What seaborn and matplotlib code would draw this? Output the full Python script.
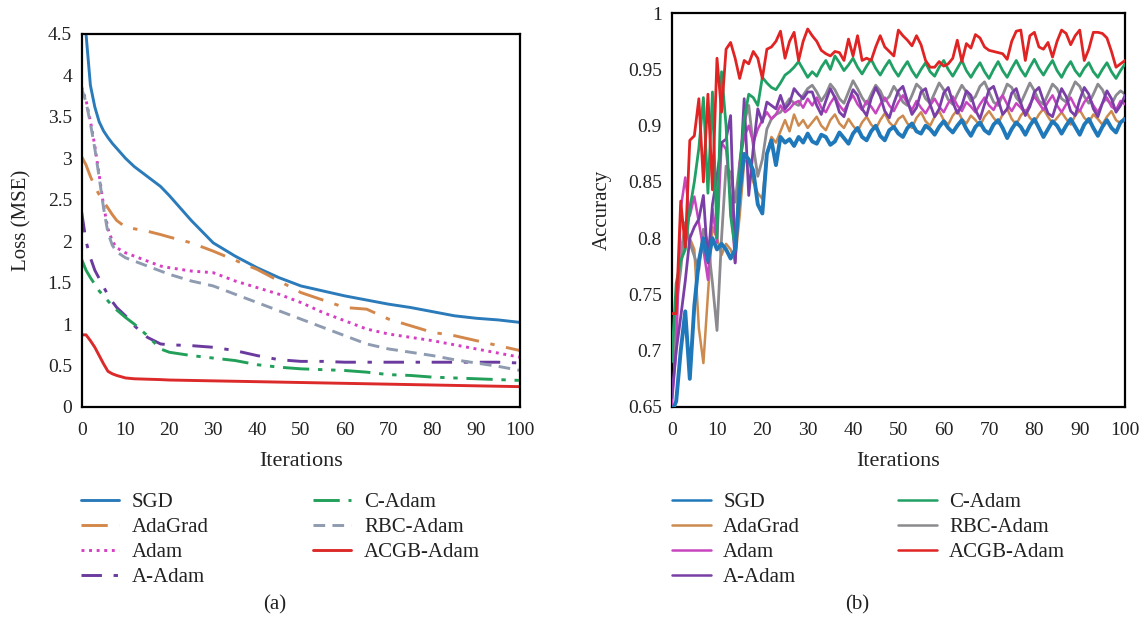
import pandas as pd
import matplotlib
matplotlib.use("Agg")
import matplotlib.pyplot as plt
from matplotlib.ticker import FuncFormatter, MultipleLocator
import seaborn as sns

optimizers = ["SGD", "AdaGrad", "Adam", "A-Adam", "C-Adam", "RBC-Adam", "ACGB-Adam"]

# ---- (a) loss curves ----
loss_iters = [0, 1, 2, 3, 4, 5, 6, 7, 8, 10, 12, 15, 18, 20, 25, 30, 35, 40, 45, 50,
              55, 60, 65, 70, 75, 80, 85, 90, 95, 100]
loss_sgd = [5.2, 4.5, 3.88, 3.62, 3.44, 3.33, 3.25, 3.18, 3.12, 3.0, 2.9, 2.78, 2.66, 2.55,
            2.25, 1.98, 1.82, 1.68, 1.56, 1.46, 1.40, 1.34, 1.29, 1.24, 1.20, 1.15, 1.10, 1.07, 1.05, 1.02]
loss_adagrad = [3.02, 2.92, 2.78, 2.66, 2.56, 2.48, 2.4, 2.32, 2.25, 2.17, 2.15, 2.12, 2.08, 2.05,
                1.98, 1.88, 1.77, 1.66, 1.52, 1.38, 1.29, 1.2, 1.18, 1.06, 0.98, 0.9, 0.86, 0.8, 0.74, 0.68]
loss_adam = [3.86, 3.7, 3.45, 3.15, 2.8, 2.43, 2.15, 2.0, 1.92, 1.86, 1.82, 1.76, 1.7, 1.68,
             1.64, 1.62, 1.52, 1.44, 1.36, 1.26, 1.14, 1.04, 0.94, 0.88, 0.84, 0.8, 0.75, 0.7, 0.65, 0.6]
loss_aadam = [2.35, 2.0, 1.8, 1.65, 1.55, 1.45, 1.35, 1.27, 1.2, 1.1, 0.98, 0.84, 0.76, 0.75,
              0.74, 0.72, 0.68, 0.62, 0.57, 0.55, 0.55, 0.54, 0.54, 0.54, 0.54, 0.54, 0.54, 0.54, 0.54, 0.53]
loss_cadam = [1.78, 1.65, 1.56, 1.48, 1.4, 1.34, 1.28, 1.22, 1.17, 1.08, 1.0, 0.86, 0.7, 0.66,
              0.62, 0.59, 0.56, 0.51, 0.48, 0.46, 0.45, 0.44, 0.42, 0.39, 0.38, 0.36, 0.35, 0.34, 0.33, 0.32]
loss_rbc = [3.84, 3.68, 3.42, 3.12, 2.77, 2.4, 2.1, 1.95, 1.87, 1.8, 1.76, 1.7, 1.64, 1.6,
            1.52, 1.46, 1.36, 1.26, 1.16, 1.06, 0.96, 0.86, 0.76, 0.7, 0.66, 0.62, 0.57, 0.53, 0.49, 0.44]
loss_acgb = [0.87, 0.87, 0.8, 0.72, 0.62, 0.52, 0.43, 0.4, 0.38, 0.35, 0.34, 0.335, 0.33, 0.325,
             0.32, 0.315, 0.31, 0.305, 0.3, 0.295, 0.29, 0.285, 0.28, 0.275, 0.27, 0.265, 0.26, 0.255, 0.25, 0.245]

# ---- (b) accuracy curves, one value per iteration 0..100 ----
acc_iters = list(range(101))
acc_sgd = [
    0.645, 0.655, 0.700, 0.735, 0.675, 0.740, 0.780, 0.800, 0.780, 0.800,
    0.790, 0.795, 0.790, 0.782, 0.790, 0.840, 0.875, 0.870, 0.860, 0.830,
    0.822, 0.875, 0.887, 0.865, 0.890, 0.885, 0.888, 0.882, 0.890, 0.885,
    0.893, 0.886, 0.884, 0.892, 0.890, 0.883, 0.886, 0.894, 0.889, 0.884,
    0.893, 0.898, 0.890, 0.887, 0.895, 0.900, 0.891, 0.887, 0.896, 0.899,
    0.893, 0.890, 0.898, 0.902, 0.895, 0.893, 0.900, 0.897, 0.892, 0.899,
    0.904, 0.898, 0.894, 0.900, 0.905, 0.897, 0.891, 0.899, 0.903, 0.896,
    0.893, 0.901, 0.905, 0.898, 0.889, 0.897, 0.903, 0.899, 0.892, 0.900,
    0.906, 0.898, 0.890, 0.897, 0.904, 0.900, 0.893, 0.900, 0.906, 0.899,
    0.892, 0.901, 0.906, 0.898, 0.891, 0.899, 0.905, 0.898, 0.894, 0.903,
    0.906]
acc_adagrad = [
    0.670, 0.740, 0.790, 0.810, 0.800, 0.790, 0.720, 0.689, 0.750, 0.810,
    0.800, 0.785, 0.795, 0.790, 0.780, 0.820, 0.868, 0.870, 0.850, 0.840,
    0.835, 0.875, 0.890, 0.885, 0.895, 0.905, 0.895, 0.910, 0.900, 0.905,
    0.898, 0.903, 0.908, 0.900, 0.896, 0.905, 0.910, 0.902, 0.898, 0.906,
    0.900, 0.895, 0.903, 0.908, 0.901, 0.897, 0.905, 0.911, 0.903, 0.899,
    0.906, 0.909, 0.902, 0.898, 0.907, 0.912, 0.904, 0.900, 0.908, 0.913,
    0.905, 0.901, 0.909, 0.914, 0.906, 0.902, 0.909, 0.905, 0.900, 0.908,
    0.913, 0.907, 0.902, 0.910, 0.915, 0.906, 0.901, 0.909, 0.914, 0.907,
    0.903, 0.910, 0.915, 0.908, 0.902, 0.907, 0.912, 0.906, 0.901, 0.909,
    0.914, 0.907, 0.903, 0.910, 0.906, 0.901, 0.908, 0.913, 0.905, 0.902,
    0.908]
acc_adam = [
    0.650, 0.700, 0.826, 0.854, 0.820, 0.837, 0.814, 0.790, 0.763, 0.826,
    0.796, 0.885, 0.879, 0.838, 0.778, 0.867, 0.890, 0.900, 0.885, 0.897,
    0.905, 0.912, 0.906, 0.910, 0.918, 0.912, 0.915, 0.920, 0.922, 0.916,
    0.924, 0.918, 0.925, 0.916, 0.912, 0.920, 0.926, 0.918, 0.913, 0.921,
    0.927, 0.919, 0.914, 0.922, 0.917, 0.911, 0.919, 0.925, 0.918, 0.913,
    0.921, 0.927, 0.920, 0.914, 0.922, 0.916, 0.911, 0.918, 0.924, 0.917,
    0.912, 0.920, 0.926, 0.918, 0.913, 0.921, 0.917, 0.912, 0.919, 0.925,
    0.918, 0.914, 0.922, 0.927, 0.919, 0.913, 0.920, 0.916, 0.911, 0.919,
    0.926, 0.920, 0.914, 0.921, 0.927, 0.918, 0.912, 0.919, 0.925, 0.917,
    0.913, 0.921, 0.926, 0.918, 0.912, 0.920, 0.925, 0.917, 0.914, 0.922,
    0.919]
acc_aadam = [
    0.658, 0.700, 0.730, 0.762, 0.800, 0.810, 0.817, 0.838, 0.778, 0.830,
    0.855, 0.885, 0.888, 0.909, 0.778, 0.850, 0.924, 0.838, 0.880, 0.915,
    0.903, 0.921, 0.918, 0.915, 0.927, 0.915, 0.920, 0.933, 0.928, 0.924,
    0.930, 0.930, 0.918, 0.910, 0.922, 0.933, 0.925, 0.912, 0.908, 0.921,
    0.932, 0.927, 0.915, 0.909, 0.924, 0.934, 0.926, 0.913, 0.907, 0.920,
    0.931, 0.935, 0.922, 0.910, 0.916, 0.930, 0.933, 0.919, 0.908, 0.915,
    0.929, 0.934, 0.921, 0.911, 0.918, 0.931, 0.927, 0.914, 0.906, 0.919,
    0.932, 0.935, 0.923, 0.910, 0.915, 0.929, 0.933, 0.920, 0.909, 0.917,
    0.930, 0.934, 0.922, 0.911, 0.908, 0.921, 0.933, 0.926, 0.913, 0.909,
    0.923, 0.934, 0.928, 0.915, 0.908, 0.920, 0.931, 0.924, 0.912, 0.918,
    0.927]
acc_cadam = [
    0.690, 0.760, 0.780, 0.790, 0.826, 0.850, 0.880, 0.925, 0.840, 0.930,
    0.800, 0.948, 0.900, 0.820, 0.790, 0.860, 0.906, 0.928, 0.925, 0.918,
    0.943, 0.938, 0.934, 0.932, 0.938, 0.945, 0.948, 0.952, 0.957, 0.950,
    0.943, 0.948, 0.944, 0.952, 0.958, 0.950, 0.962, 0.956, 0.949, 0.954,
    0.960, 0.952, 0.946, 0.953, 0.959, 0.951, 0.945, 0.952, 0.958, 0.950,
    0.944, 0.951, 0.957, 0.949, 0.943, 0.950, 0.956, 0.948, 0.944, 0.952,
    0.958, 0.950, 0.944, 0.951, 0.958, 0.949, 0.943, 0.950, 0.956, 0.948,
    0.942, 0.950, 0.957, 0.949, 0.943, 0.951, 0.958, 0.950, 0.944, 0.952,
    0.959, 0.951, 0.945, 0.952, 0.958, 0.949, 0.943, 0.951, 0.957, 0.949,
    0.944, 0.951, 0.956, 0.948, 0.943, 0.950, 0.956, 0.948, 0.942, 0.949,
    0.955]
acc_rbc = [
    0.665, 0.740, 0.772, 0.814, 0.796, 0.784, 0.772, 0.808, 0.796, 0.760,
    0.718, 0.800, 0.864, 0.858, 0.832, 0.867, 0.903, 0.918, 0.882, 0.855,
    0.870, 0.897, 0.906, 0.910, 0.912, 0.918, 0.924, 0.920, 0.918, 0.927,
    0.933, 0.936, 0.930, 0.922, 0.928, 0.937, 0.932, 0.924, 0.920, 0.930,
    0.940, 0.933, 0.925, 0.919, 0.928, 0.936, 0.931, 0.922, 0.926, 0.935,
    0.929, 0.921, 0.918, 0.927, 0.937, 0.933, 0.924, 0.920, 0.929, 0.938,
    0.932, 0.923, 0.919, 0.928, 0.936, 0.930, 0.922, 0.926, 0.935, 0.939,
    0.930, 0.921, 0.918, 0.927, 0.937, 0.934, 0.925, 0.920, 0.929, 0.938,
    0.931, 0.922, 0.919, 0.928, 0.937, 0.933, 0.924, 0.921, 0.930, 0.939,
    0.935, 0.926, 0.920, 0.928, 0.937, 0.932, 0.923, 0.919, 0.927, 0.931,
    0.928]
acc_acgb = [
    0.733, 0.733, 0.833, 0.792, 0.887, 0.891, 0.924, 0.850, 0.928, 0.843,
    0.960, 0.912, 0.968, 0.974, 0.960, 0.942, 0.958, 0.955, 0.966, 0.960,
    0.942, 0.968, 0.970, 0.975, 0.984, 0.960, 0.975, 0.983, 0.958, 0.975,
    0.986, 0.980, 0.975, 0.967, 0.964, 0.962, 0.966, 0.965, 0.958, 0.977,
    0.962, 0.980, 0.958, 0.960, 0.958, 0.970, 0.980, 0.970, 0.966, 0.962,
    0.985, 0.980, 0.976, 0.971, 0.980, 0.972, 0.958, 0.952, 0.952, 0.957,
    0.953, 0.955, 0.960, 0.976, 0.957, 0.973, 0.969, 0.981, 0.978, 0.970,
    0.967, 0.966, 0.965, 0.964, 0.959, 0.975, 0.984, 0.985, 0.958, 0.980,
    0.983, 0.970, 0.968, 0.974, 0.961, 0.975, 0.985, 0.982, 0.972, 0.980,
    0.985, 0.958, 0.968, 0.983, 0.983, 0.982, 0.978, 0.966, 0.952, 0.955,
    0.958]

loss_df = pd.DataFrame({"Iterations": loss_iters, "SGD": loss_sgd, "AdaGrad": loss_adagrad,
                        "Adam": loss_adam, "A-Adam": loss_aadam, "C-Adam": loss_cadam,
                        "RBC-Adam": loss_rbc, "ACGB-Adam": loss_acgb})
acc_df = pd.DataFrame({"Iterations": acc_iters, "SGD": acc_sgd, "AdaGrad": acc_adagrad,
                       "Adam": acc_adam, "A-Adam": acc_aadam, "C-Adam": acc_cadam,
                       "RBC-Adam": acc_rbc, "ACGB-Adam": acc_acgb})
loss_long = loss_df.melt(id_vars="Iterations", var_name="Optimizer", value_name="Loss")
acc_long = acc_df.melt(id_vars="Iterations", var_name="Optimizer", value_name="Accuracy")

# line looks
loss_colors = {"SGD": "#2b7bba", "AdaGrad": "#d4874a", "Adam": "#d63fc4", "A-Adam": "#6b3a9e",
               "C-Adam": "#22a05a", "RBC-Adam": "#8e9bb0", "ACGB-Adam": "#dc2a2a"}
loss_styles = {"SGD": "-", "AdaGrad": (0, (9, 4, 1.5, 4)), "Adam": (0, (1, 1.6)),
               "A-Adam": (0, (7, 4, 1.5, 4)), "C-Adam": (0, (9, 3, 1.5, 3, 1.5, 3)),
               "RBC-Adam": (0, (4, 2.5)), "ACGB-Adam": "-"}
acc_colors = {"SGD": "#1f78b9", "AdaGrad": "#cc8a4e", "Adam": "#c845c0", "A-Adam": "#7a3fa6",
              "C-Adam": "#21a065", "RBC-Adam": "#8a8a8f", "ACGB-Adam": "#e02424"}
acc_widths = {"SGD": 2.8, "AdaGrad": 1.8, "Adam": 1.8, "A-Adam": 2.0,
              "C-Adam": 2.0, "RBC-Adam": 2.0, "ACGB-Adam": 2.0}
acc_order = {"SGD": 4, "AdaGrad": 2, "Adam": 3, "A-Adam": 3, "C-Adam": 3, "RBC-Adam": 2, "ACGB-Adam": 5}

sns.set_style("white")
plt.rcParams["font.family"] = ["Liberation Serif", "DejaVu Serif"]
plt.rcParams["text.color"] = "#222222"
plt.rcParams["axes.labelcolor"] = "#222222"

fig = plt.figure(figsize=(11.45, 6.29), dpi=100)
ax1 = fig.add_axes([0.0713, 0.353, 0.3830, 0.593])
ax2 = fig.add_axes([0.5866, 0.353, 0.3960, 0.626])

for name in optimizers:
    sns.lineplot(data=loss_long[loss_long["Optimizer"] == name], x="Iterations", y="Loss",
                 ax=ax1, color=loss_colors[name], linestyle=loss_styles[name],
                 linewidth=2.1, label=name)
for name in optimizers:
    sns.lineplot(data=acc_long[acc_long["Optimizer"] == name], x="Iterations", y="Accuracy",
                 ax=ax2, color=acc_colors[name], linewidth=acc_widths[name],
                 zorder=acc_order[name], label=name)

fmt = FuncFormatter(lambda v, p: f"{v:g}")
for ax in (ax1, ax2):
    ax.set_xlim(0, 100)
    ax.xaxis.set_major_locator(MultipleLocator(10))
    ax.yaxis.set_major_formatter(fmt)
    ax.tick_params(direction="in", length=5, width=1.4, labelsize=14, colors="#222222")
    ax.tick_params(axis="x", pad=11)
    ax.tick_params(axis="y", pad=7)
    for sp in ax.spines.values():
        sp.set_linewidth(1.6)
        sp.set_color("black")
    ax.set_xlabel("Iterations", fontsize=16, labelpad=9)

ax1.set_ylim(0, 4.5)
ax1.yaxis.set_major_locator(MultipleLocator(0.5))
ax1.set_ylabel("Loss (MSE)", fontsize=15, labelpad=12)
ax2.set_ylim(0.65, 1.0)
ax2.yaxis.set_major_locator(MultipleLocator(0.05))
ax2.set_ylabel("Accuracy", fontsize=15, labelpad=12)

leg_kw = dict(ncol=2, frameon=False, fontsize=15, handlelength=1.85, handletextpad=0.6,
              labelspacing=0.26, borderpad=0, borderaxespad=0, loc="upper left",
              bbox_transform=fig.transFigure)
h1, l1 = ax1.get_legend_handles_labels()
ax1.legend(h1, l1, bbox_to_anchor=(0.0705, 0.217), columnspacing=5.0, **leg_kw)
h2, l2 = ax2.get_legend_handles_labels()
leg2 = ax2.legend(h2, l2, bbox_to_anchor=(0.587, 0.217), columnspacing=4.7, **leg_kw)
for line in leg2.get_lines():
    line.set_linewidth(1.8)

fig.text(0.240, 0.038, "(a)", ha="center", va="center", fontsize=15)
fig.text(0.749, 0.038, "(b)", ha="center", va="center", fontsize=15)

fig.savefig("out.png", dpi=100)
